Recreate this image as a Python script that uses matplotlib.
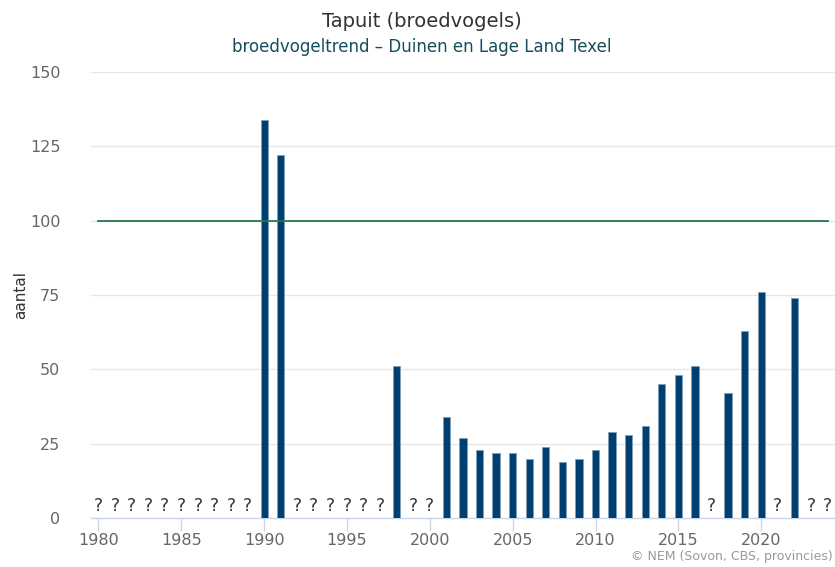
import numpy as np
import matplotlib.pyplot as plt

# counted years and their numbers of territories
years = [1990, 1991, 1998, 2001, 2002, 2003, 2004, 2005, 2006, 2007, 2008,
         2009, 2010, 2011, 2012, 2013, 2014, 2015, 2016, 2018, 2019, 2020, 2022]
counts = [134, 122, 51, 34, 27, 23, 22, 22, 20, 24, 19,
          20, 23, 29, 28, 31, 45, 48, 51, 42, 63, 76, 74]

# years without a count, shown as "?"
unknown_years = list(range(1980, 1990)) + list(range(1992, 1998)) + [1999, 2000, 2017, 2021, 2023, 2024]

index_level = 100
line_years = [1980, 2024]
xticks = [1980, 1985, 1990, 1995, 2000, 2005, 2010, 2015, 2020]
yticks = [0, 25, 50, 75, 100, 125, 150]

fig = plt.figure(figsize=(8.35, 5.67), dpi=100)
ax = fig.add_axes([91 / 835, 49 / 567, 744 / 835, 446 / 567])

ax.bar(years, counts, width=0.44, color='#003f72', edgecolor='#7f9fb9',
       linewidth=0.6, zorder=3)
ax.plot(line_years, [index_level, index_level], color='#23794a', linewidth=1.3, zorder=4)

for yr in unknown_years:
    ax.text(yr, 2.3, '?', ha='center', va='baseline', fontsize=12.5, color='#333333')

ax.set_xlim(1979.55, 2024.45)
ax.set_ylim(0, 150)
ax.set_xticks(xticks)
ax.set_yticks(yticks)
ax.grid(axis='y', color='#e6e6e6', linewidth=1, zorder=0)
ax.set_axisbelow(True)

for side in ['top', 'right', 'left']:
    ax.spines[side].set_visible(False)
ax.spines['bottom'].set_color('#ccd6eb')
ax.spines['bottom'].set_linewidth(1)

ax.tick_params(axis='x', colors='#ccd6eb', length=9, width=1, labelcolor='#666666',
               labelsize=11.5, pad=2)
ax.tick_params(axis='y', length=0, labelcolor='#666666', labelsize=11.5, pad=22)

ax.set_ylabel('aantal', fontsize=11, color='#333333')
ax.yaxis.set_label_coords(-0.085, 0.5)

fig.text(0.505, 0.962, 'Tapuit (broedvogels)', ha='center', va='center',
         fontsize=14, color='#333333')
fig.text(0.505, 0.917, 'broedvogeltrend \u2013 Duinen en Lage Land Texel', ha='center',
         va='center', fontsize=12, color='#164e5e')
fig.text(0.997, 0.018, '\u00a9 NEM (Sovon, CBS, provincies)', ha='right', va='center',
         fontsize=9, color='#999999')

fig.savefig('out.png', dpi=100)
